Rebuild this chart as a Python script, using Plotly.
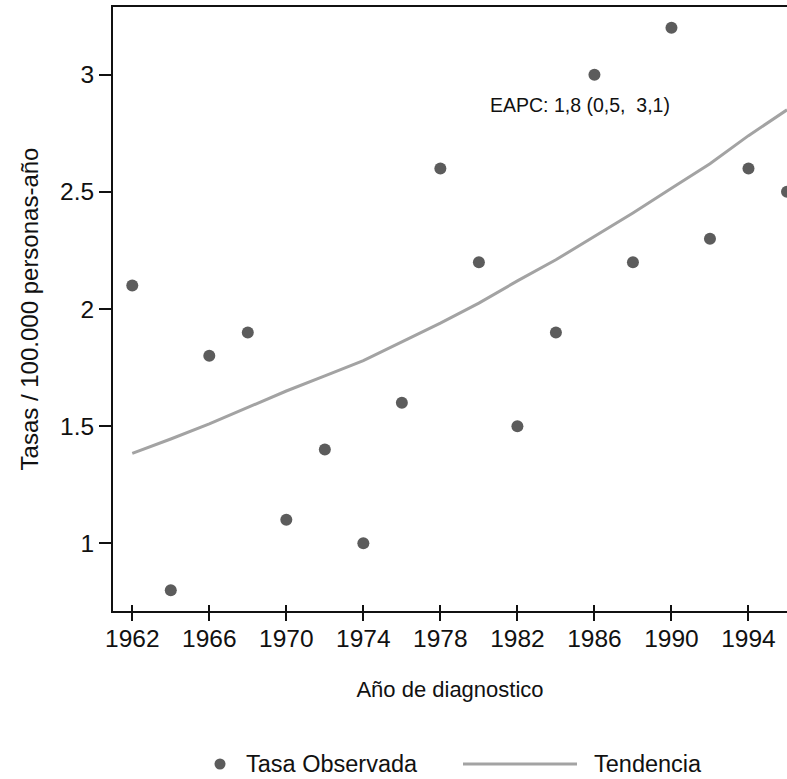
import plotly.graph_objects as go

# ---- data ----
years = [1962, 1964, 1966, 1968, 1970, 1972, 1974, 1976, 1978, 1980,
         1982, 1984, 1986, 1988, 1990, 1992, 1994, 1996]
observed = [2.1, 0.8, 1.8, 1.9, 1.1, 1.4, 1.0, 1.6, 2.6, 2.2,
            1.5, 1.9, 3.0, 2.2, 3.2, 2.3, 2.6, 2.5]
trend = [1.384, 1.445, 1.51, 1.58, 1.65, 1.715, 1.78, 1.86, 1.94, 2.025,
         2.12, 2.21, 2.31, 2.41, 2.515, 2.62, 2.74, 2.85]
xtick_vals = [1962, 1966, 1970, 1974, 1978, 1982, 1986, 1990, 1994]
ytick_vals = [1, 1.5, 2, 2.5, 3]
ytick_text = ["1", "1.5", "2", "2.5", "3"]
series_names = ["Tasa Observada", "Tendencia"]
annotation_text = "EAPC: 1,8 (0,5,\u00a0\u00a03,1)"

# ---- style ----
FONT = "Liberation Sans, Arial, Helvetica, sans-serif"
DOT = "#5c5c5c"
LINE = "#a3a3a3"
W, H = 787, 779
ML, MR, MT, MB = 113, 0, 7, 168
PW, PH = W - ML - MR, H - MT - MB


def px(x):
    return (x - ML) / PW


def py(y):
    return (H - MB - y) / PH


fig = go.Figure()
fig.add_trace(go.Scatter(x=years, y=trend, mode="lines", name=series_names[1],
                         line=dict(color=LINE, width=3), showlegend=False,
                         cliponaxis=True))
fig.add_trace(go.Scatter(x=years, y=observed, mode="markers", name=series_names[0],
                         marker=dict(color=DOT, size=12, line=dict(width=0)),
                         showlegend=False, cliponaxis=True))
# invisible trace on overlay axis used to draw inner half of crossing ticks
fig.add_trace(go.Scatter(x=[years[0]], y=[observed[0]], xaxis="x2", mode="markers",
                         marker=dict(opacity=0), showlegend=False, hoverinfo="skip"))

fig.add_annotation(x=1980.45, y=2.871, xref="x", yref="y", text=annotation_text,
                   showarrow=False, xanchor="left", yanchor="middle",
                   font=dict(family=FONT, size=19.5, color="#111111"))

# manual legend
LY = 764
fig.add_shape(type="circle", xref="paper", yref="paper",
              x0=px(214.5), x1=px(225.5), y0=py(769.5), y1=py(758.5),
              fillcolor=DOT, line=dict(width=0))
fig.add_annotation(x=px(244), y=py(LY), xref="paper", yref="paper",
                   text=series_names[0], showarrow=False, xanchor="left",
                   yanchor="middle", font=dict(family=FONT, size=23.5, color="#111111"))
fig.add_shape(type="line", xref="paper", yref="paper",
              x0=px(463), x1=px(577), y0=py(LY), y1=py(LY),
              line=dict(color=LINE, width=3))
fig.add_annotation(x=px(592), y=py(LY), xref="paper", yref="paper",
                   text=series_names[1], showarrow=False, xanchor="left",
                   yanchor="middle", font=dict(family=FONT, size=23.5, color="#111111"))

axis_common = dict(showgrid=False, zeroline=False, showline=True,
                   linecolor="#111111", linewidth=2, tickcolor="#111111",
                   tickwidth=1.5, tickfont=dict(family=FONT, size=24.5, color="#111111"))

fig.update_layout(
    width=W, height=H,
    margin=dict(l=ML, r=MR, t=MT, b=MB),
    plot_bgcolor="white", paper_bgcolor="white",
    showlegend=False,
    xaxis=dict(range=[1961, 1996], tickvals=xtick_vals, ticks="outside", ticklen=8,
               mirror=True, ticklabelstandoff=-3,
               title=dict(text="Año de diagnostico", standoff=30,
                          font=dict(family=FONT, size=22, color="#111111")),
               **axis_common),
    xaxis2=dict(range=[1961, 1996], overlaying="x", anchor="y", side="bottom",
                tickvals=xtick_vals, ticks="inside", ticklen=6, tickwidth=1.5,
                tickcolor="#111111", showticklabels=False, showgrid=False,
                zeroline=False, showline=False),
    yaxis=dict(range=[0.711, 3.289], tickvals=ytick_vals, ticktext=ytick_text,
               ticks="outside", ticklen=12,
               title=dict(text="Tasas / 100.000 personas-año", standoff=15,
                          font=dict(family=FONT, size=24, color="#111111")),
               **axis_common),
)

fig.write_html("out.html")
